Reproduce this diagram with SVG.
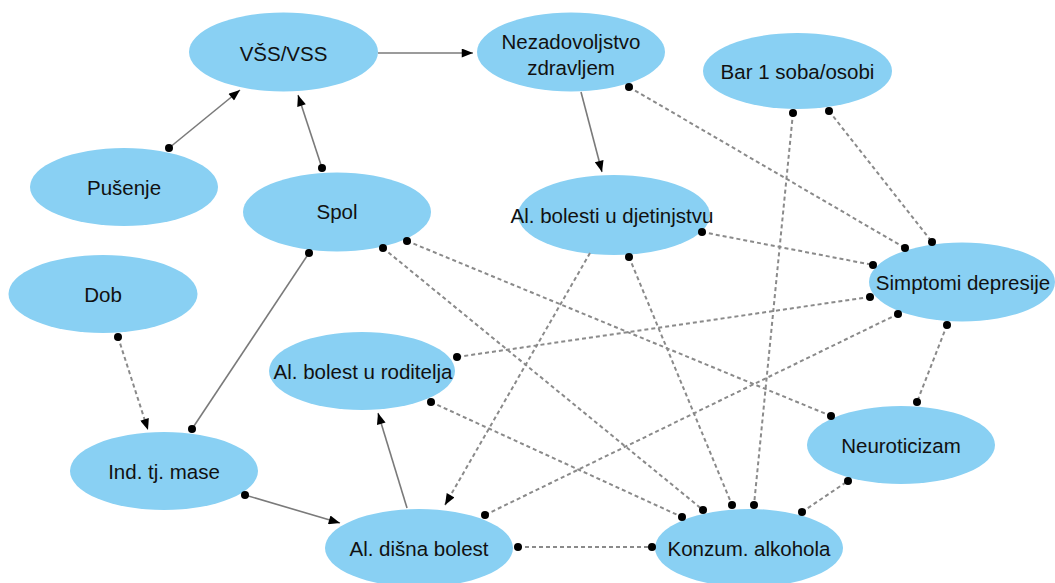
<svg xmlns="http://www.w3.org/2000/svg" width="1055" height="583" viewBox="0 0 1055 583">
<defs>
<marker id="arr" viewBox="0 0 10 8" refX="10" refY="4" markerWidth="13" markerHeight="9" markerUnits="userSpaceOnUse" orient="auto">
<path d="M0,0 L10,4 L0,8 z" fill="#000"/>
</marker>
<style>
.n ellipse{fill:#89d0f3;}
.n text{font-family:"Liberation Sans",Arial,sans-serif;font-size:20.5px;fill:#111;text-anchor:middle;dominant-baseline:central;}
.s{stroke:#7a7a7a;stroke-width:1.6;fill:none;}
.d{stroke:#8a8a8a;stroke-width:2;stroke-dasharray:4 3;fill:none;}
.a{marker-end:url(#arr);}
.dot{fill:#000;}
</style>
</defs>
<rect width="1055" height="583" fill="#fff"/>
<g id="nodes">
<g id="n-vss" class="n"><ellipse cx="283.5" cy="52" rx="94.5" ry="39.5"/><text x="283.5" y="53">VŠS/VSS</text></g>
<g id="n-nezad" class="n"><ellipse cx="571" cy="52" rx="94" ry="39.5"/><text x="571" y="41">Nezadovoljstvo</text><text x="571" y="67">zdravljem</text></g>
<g id="n-bar" class="n"><ellipse cx="797.5" cy="71" rx="94.5" ry="38"/><text x="797.5" y="71">Bar 1 soba/osobi</text></g>
<g id="n-pusenje" class="n"><ellipse cx="124" cy="187" rx="94" ry="39"/><text x="124" y="187">Pušenje</text></g>
<g id="n-spol" class="n"><ellipse cx="337" cy="212" rx="94" ry="39.5"/><text x="337" y="211">Spol</text></g>
<g id="n-djet" class="n"><ellipse cx="614" cy="215" rx="96" ry="40"/><text x="612" y="215">Al. bolesti u djetinjstvu</text></g>
<g id="n-simp" class="n"><ellipse cx="962" cy="282" rx="93" ry="39.5"/><text x="963" y="282">Simptomi depresije</text></g>
<g id="n-dob" class="n"><ellipse cx="103" cy="294" rx="94.5" ry="39"/><text x="103" y="294">Dob</text></g>
<g id="n-rod" class="n"><ellipse cx="362" cy="371" rx="93" ry="39"/><text x="363" y="371">Al. bolest u roditelja</text></g>
<g id="n-neuro" class="n"><ellipse cx="901" cy="445" rx="94" ry="39"/><text x="901" y="445">Neuroticizam</text></g>
<g id="n-itm" class="n"><ellipse cx="164" cy="471" rx="94" ry="39"/><text x="164" y="471">Ind. tj. mase</text></g>
<g id="n-disna" class="n"><ellipse cx="419" cy="548" rx="94" ry="39"/><text x="419" y="548">Al. dišna bolest</text></g>
<g id="n-alk" class="n"><ellipse cx="749" cy="548" rx="94" ry="39"/><text x="749" y="548">Konzum. alkohola</text></g>
</g>
<g id="connectors">
<line class="s a" x1="378" y1="53" x2="473" y2="53"/>
<line class="s a" x1="169" y1="148" x2="240" y2="90"/>
<line class="s a" x1="322" y1="168" x2="298" y2="95"/>
<line class="s a" x1="581" y1="92" x2="602" y2="172"/>
<line class="s" x1="309" y1="253" x2="192" y2="429"/>
<line class="s a" x1="245" y1="495" x2="340" y2="523"/>
<line class="s a" x1="407" y1="508" x2="378" y2="413"/>
<line class="d a" x1="118" y1="337" x2="148" y2="430"/>
<line class="d a" x1="590" y1="253" x2="445" y2="505"/>
<line class="d" x1="629" y1="87" x2="905" y2="248"/>
<line class="d" x1="829" y1="111" x2="932" y2="242"/>
<line class="d" x1="793" y1="113" x2="754" y2="505"/>
<line class="d" x1="702" y1="232" x2="873" y2="265"/>
<line class="d" x1="870" y1="297" x2="457" y2="357"/>
<line class="d" x1="898" y1="314" x2="485" y2="515"/>
<line class="d" x1="947" y1="325" x2="917" y2="402"/>
<line class="d" x1="407" y1="241" x2="831" y2="416"/>
<line class="d" x1="383" y1="248" x2="703" y2="510"/>
<line class="d" x1="629" y1="257" x2="732" y2="505"/>
<line class="d" x1="431" y1="402" x2="682" y2="517"/>
<line class="d" x1="518" y1="547" x2="652" y2="547"/>
<line class="d" x1="802" y1="512" x2="848" y2="481"/>
<g class="dot">
<circle cx="169" cy="148" r="4"/><circle cx="322" cy="168" r="4"/>
<circle cx="309" cy="253" r="4"/><circle cx="192" cy="429" r="4"/>
<circle cx="245" cy="495" r="4"/><circle cx="118" cy="337" r="4"/>
<circle cx="629" cy="87" r="4"/><circle cx="905" cy="248" r="4"/>
<circle cx="829" cy="111" r="4"/><circle cx="932" cy="242" r="4"/>
<circle cx="793" cy="113" r="4"/><circle cx="754" cy="505" r="4"/>
<circle cx="702" cy="232" r="4"/><circle cx="873" cy="265" r="4"/>
<circle cx="870" cy="297" r="4"/><circle cx="457" cy="357" r="4"/>
<circle cx="898" cy="314" r="4"/><circle cx="485" cy="515" r="4"/>
<circle cx="947" cy="325" r="4"/><circle cx="917" cy="402" r="4"/>
<circle cx="407" cy="241" r="4"/><circle cx="831" cy="416" r="4"/>
<circle cx="383" cy="248" r="4"/><circle cx="703" cy="510" r="4"/>
<circle cx="629" cy="257" r="4"/><circle cx="732" cy="505" r="4"/>
<circle cx="431" cy="402" r="4"/><circle cx="682" cy="517" r="4"/>
<circle cx="518" cy="547" r="4"/><circle cx="652" cy="547" r="4"/>
<circle cx="802" cy="512" r="4"/><circle cx="848" cy="481" r="4"/>
</g>
</g>
</svg>
